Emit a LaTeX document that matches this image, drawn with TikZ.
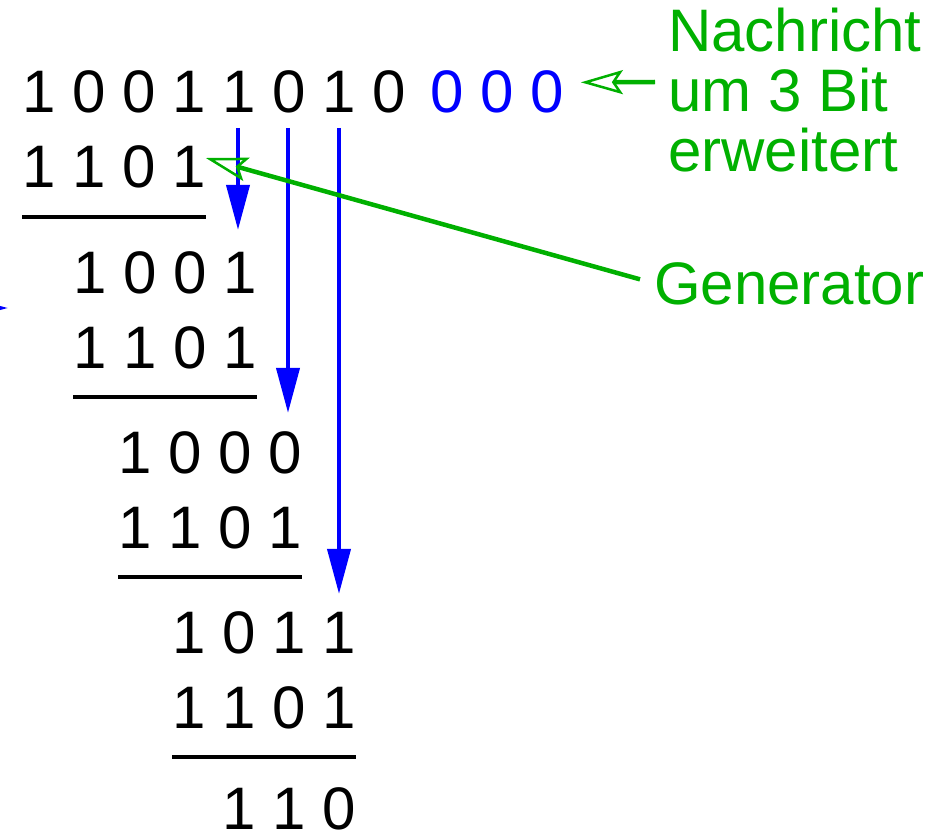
\documentclass[tikz,border=0pt]{standalone}
\usepackage{fontspec}
\setmainfont{Liberation Sans}
\usetikzlibrary{arrows.meta}
\definecolor{hintgreen}{RGB}{0,176,0}

\begin{document}
\begin{tikzpicture}[
x=1pt, y=-1pt,
every node/.style={
    inner sep=0pt,
    anchor=base west,
    font=\fontsize{60}{60}\selectfont
},
rest/.style={line width=4pt},
carry/.style={blue, line width=4pt, -{Triangle[length=45pt,width=23pt]}},
hint/.style={hintgreen, line width=4.5pt, -{Stealth[open,length=42pt,width=24pt,inset=8pt,line width'=2.5pt]}},
note/.style={text=hintgreen, align=left}
]
\useasboundingbox (0,0) rectangle (948,837);

\node (msg) at (22,113) {1 0 0 1 1 0 1 0};
\node[text=blue] (pad) at (430,113) {0 0 0};
\node (g1) at (22,188) {1 1 0 1};
\node (r1) at (73,293) {1 0 0 1};
\node (g2) at (73,368) {1 1 0 1};
\node (r2) at (118,473) {1 0 0 0};
\node (g3) at (118,548) {1 1 0 1};
\node (r3) at (172,653) {1 0 1 1};
\node (g4) at (172,728) {1 1 0 1};
\node (crc) at (222,829) {1 1 0};

\foreach \g in {g1,g2,g3,g4}
    \draw[rest] ([yshift=-29pt]\g.base west) -- ([yshift=-29pt]\g.base east);

\foreach \r/\x/\s in {r1/238/21, r2/288/18, r3/339/17}
    \draw[carry, shorten <=14pt, shorten >=\s pt] (\x,0 |- msg.south) -- (\x,0 |- \r.north);

\coordinate (edge) at (8,308);
\draw[carry] ([xshift=-70pt]edge) -- (edge);

% base of a multi-line node sits on its last line
\node[note] (ext) at (668,172) {Nachricht\\um 3 Bit\\erweitert};
\node[note] (gen) at (654,305) {Generator};

\coordinate (from) at (655,82);
\draw[hint] (from) -- ([xshift=17pt,yshift=10pt]pad.east);
\draw[hint] ([xshift=-14pt,yshift=5pt]gen.west) -- ([yshift=30pt]g1.base east);
\end{tikzpicture}
\end{document}
